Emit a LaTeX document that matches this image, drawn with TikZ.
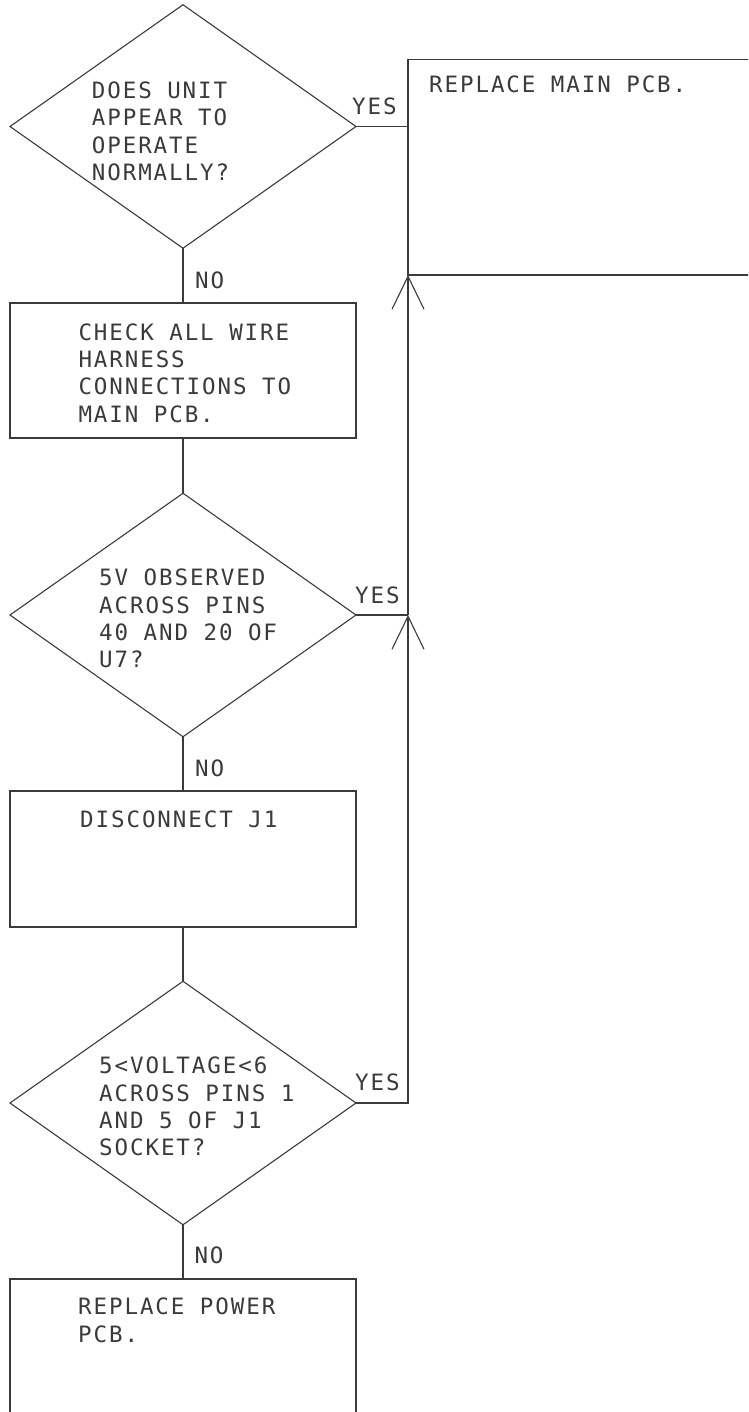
\documentclass[tikz,border=0pt]{standalone}
\usepackage{fontspec}
\newfontfamily\cadfont[LetterSpace=8.5]{DejaVu Sans Mono}
\usetikzlibrary{shapes.geometric,arrows.meta}
\definecolor{ink}{HTML}{3A3A3A}
\begin{document}
\begin{tikzpicture}[x=1pt,y=-1pt,
  decision/.style={diamond, draw=ink, line width=1.1pt, inner sep=0pt, outer sep=0pt,
    minimum width=346pt, minimum height=243.5pt, shape aspect=1.42},
  stepbox/.style={rectangle, draw=ink, line width=1.1pt, inner sep=0pt, outer sep=0pt},
  txt/.style={anchor=north west, inner sep=0pt, align=left, text=ink,
    font=\cadfont\fontsize{22.5}{27.3}\selectfont},
  flow/.style={draw=ink, line width=1.1pt},
  uptip/.style={-{Straight Barb[length=33pt,width=32pt]}}]
\useasboundingbox (0,0) rectangle (748,1412);
\clip (0,0) rectangle (748,1412);

% decisions
\node[decision] (d1) at (183,126.5) {};
\node[decision] (d2) at (183,615) {};
\node[decision] (d3) at (183,1103) {};

% action boxes
\node[stepbox, minimum width=362pt, minimum height=215.7pt] (b1) at (589,167.15) {};
\node[stepbox, minimum width=346pt, minimum height=135pt] (b2) at (183,370.5) {};
\node[stepbox, minimum width=346pt, minimum height=136pt] (b3) at (183,859) {};
\node[stepbox, minimum width=346pt, minimum height=152pt] (b4) at (183,1355) {};

% texts
\node[txt] (t1) at (91.7,81.7) {DOES UNIT\\APPEAR TO\\OPERATE\\NORMALLY?};
\node[txt] (tb1) at (429,76) {REPLACE MAIN PCB.};
\node[txt] (tb2) at (78.3,323.3) {CHECK ALL WIRE\\HARNESS\\CONNECTIONS TO\\MAIN PCB.};
\node[txt] (t2) at (99,569) {5V OBSERVED\\ACROSS PINS\\40 AND 20 OF\\U7?};
\node[txt] (tb3) at (80,810.7) {DISCONNECT J1};
\node[txt] (t3) at (99,1057) {5<VOLTAGE<6\\ACROSS PINS 1\\AND 5 OF J1\\SOCKET?};
\node[txt] (tb4) at (78,1298) {REPLACE POWER\\PCB.};

% branch labels
\node[txt] (y1) at (352,97.3) {YES};
\node[txt] (y2) at (355,586.7) {YES};
\node[txt] (y3) at (355,1074) {YES};
\node[txt] (n1) at (195,271.7) {NO};
\node[txt] (n2) at (195,760) {NO};
\node[txt] (n3) at (194.3,1246.7) {NO};

% main flow
\draw[flow] (d1.south) -- (b2.north);
\draw[flow] (b2.south) -- (d2.north);
\draw[flow] (d2.south) -- (b3.north);
\draw[flow] (b3.south) -- (d3.north);
\draw[flow] (d3.south) -- (b4.north);

% yes branches
\draw[flow] (d1.east) -- (d1.east -| b1.west);
\coordinate (j2) at (d2.east -| b1.west);
\coordinate (j3) at (d3.east -| b1.west);
\draw[flow] (d2.east) -- (j2);
\draw[flow, uptip] (d3.east) -- (j3) -- (j2);
\draw[flow, uptip] (j2) -- (b1.south west);
\end{tikzpicture}
\end{document}
